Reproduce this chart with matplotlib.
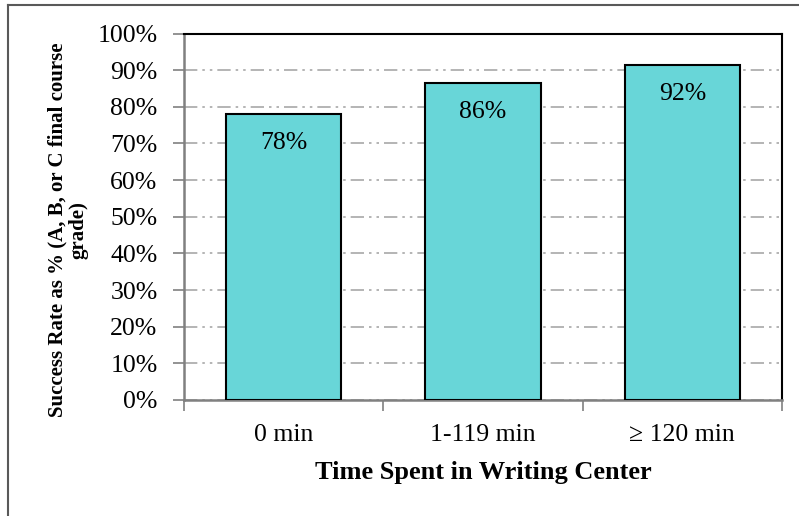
import matplotlib.pyplot as plt
from matplotlib.ticker import FuncFormatter
from matplotlib.lines import Line2D
import numpy as np

categories = ["0 min", "1-119 min", "\u2265 120 min"]
success = [0.78, 0.864, 0.915]
yticks = np.arange(0, 1.01, 0.1)

plt.rcParams["font.family"] = ["Liberation Serif", "DejaVu Serif"]

fig = plt.figure(figsize=(7.99, 5.16), dpi=100)
ax = fig.add_axes([184 / 799, 1 - 400 / 516, (782 - 184) / 799, (400 - 33.5) / 516])

x = np.arange(len(categories))
ax.bar(x, success, width=0.58, color="#68D6D8", edgecolor="black", linewidth=1.5, zorder=3)
for xi, v in zip(x, success):
    ax.text(xi, v - 0.079, f"{round(v * 100):.0f}%", ha="center", va="center", fontsize=18.5, zorder=4)

ax.set_xlim(-0.5, len(categories) - 0.5)
ax.set_ylim(0, 1)
ax.set_yticks(yticks)
ax.yaxis.set_major_formatter(FuncFormatter(lambda v, p: f"{v * 100:.0f}%"))
ax.set_xticks(x)
ax.set_xticklabels(categories, fontsize=18.5)
ax.tick_params(axis="y", labelsize=18.5, length=8, width=1.2, color="#808080", pad=11)
ax.tick_params(axis="x", length=0, pad=17)
# category separator ticks
ax.set_xticks(np.arange(-0.5, len(categories)), minor=True)
ax.tick_params(axis="x", which="minor", length=8, width=1.2, color="#808080")

ax.yaxis.grid(True, color="#A8A8A8", linewidth=1.2, dashes=(8, 3, 1.5, 3, 1.5, 3), zorder=0)
ax.set_axisbelow(True)
for s in ["left", "bottom"]:
    ax.spines[s].set_color("#808080")
    ax.spines[s].set_linewidth(1.8)
for s in ["top", "right"]:
    ax.spines[s].set_color("black")
    ax.spines[s].set_linewidth(1.5)

ax.set_xlabel("Time Spent in Writing Center", fontsize=19, fontweight="bold", labelpad=11)
fig.text(68 / 799, 1 - 230 / 516, "Success Rate as % (A, B, or C final course\ngrade)",
         rotation=90, ha="center", va="center", fontsize=15, fontweight="bold",
         multialignment="center", linespacing=1.1)

# outer chart border (only top and left visible)
fig.add_artist(Line2D([8 / 799, 8 / 799], [0, 1 - 5 / 516], color="#595959", linewidth=1.5))
fig.add_artist(Line2D([8 / 799, 1], [1 - 5 / 516, 1 - 5 / 516], color="#595959", linewidth=1.5))

fig.savefig("out.png", dpi=100)
